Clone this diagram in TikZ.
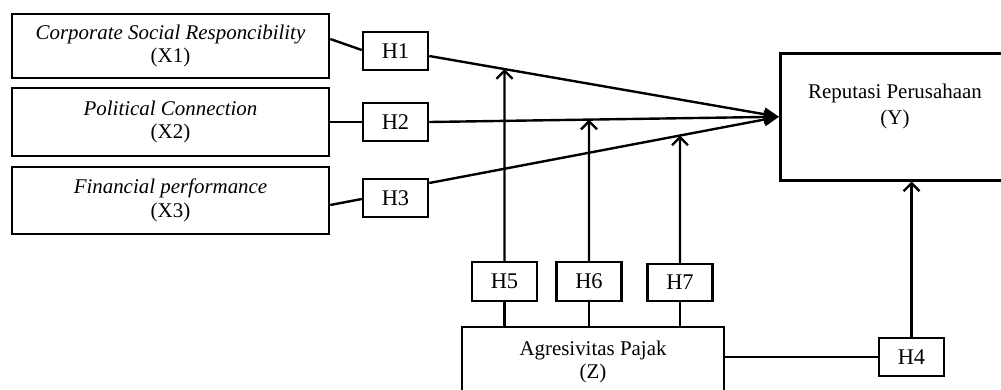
\documentclass[tikz,border=0pt]{standalone}
\usepackage{fontspec}
\setmainfont{Liberation Serif}
\usetikzlibrary{arrows.meta,intersections,calc}
\begin{document}
\begin{tikzpicture}[x=1bp,y=-1bp,
  txt/.style={font=\fontsize{21}{26}\selectfont,align=center,inner sep=0pt},
  box/.style={draw,line width=2.5bp,rectangle,inner sep=0pt,align=center,font=\fontsize{21}{24}\selectfont},
  xbox/.style={box,minimum width=317bp},
  hbox/.style={draw,line width=2.5bp,minimum width=65bp,minimum height=38bp,inner sep=0pt,font=\fontsize{22.5}{24}\selectfont},
  link/.style={line width=2.4bp},
  main/.style={link,-{Triangle[length=15bp,width=13bp]}},
  mod/.style={link,-{Straight Barb[length=8bp,width=16bp,line width=2.4bp]}}
]
\useasboundingbox (0,0) rectangle (1001,389);
\fill[white] (0,0) rectangle (1001,389);
\clip (0,0) rectangle (1001,389);

% independent variables
\node[xbox,minimum height=64bp] (X1) at (170.5,46) {\textit{Corporate Social Responcibility}\\(X1)};
\node[xbox,minimum height=68bp] (X2) at (170.5,122) {\textit{Political Connection}\\(X2)};
\node[xbox,minimum height=67bp] (X3) at (170.5,200.5) {\textit{Financial performance}\\(X3)};

% hypothesis boxes
\node[hbox] (H1) at (395.5,51) {H1};
\node[hbox] (H2) at (395.5,122) {H2};
\node[hbox] (H3) at (395.5,198) {H3};
\node[hbox,minimum height=39bp] (H5) at (504.5,281.5) {H5};
\node[hbox,minimum height=39bp] (H6) at (589,281.5) {H6};
\node[hbox,minimum height=37bp] (H7) at (680,282.5) {H7};
\node[hbox] (H4) at (911.5,357) {H4};

% dependent variable
\node[draw,line width=2.5bp,minimum width=240bp,minimum height=127bp,anchor=north west,inner sep=0pt] (Y) at (779,52) {};
\node[txt] (Yt) at (895,106.5) {Reputasi Perusahaan\\(Y)};

% moderating variable
\node[box,minimum width=262bp,minimum height=70bp] (Z) at (593,362) {Agresivitas Pajak\\(Z)};

% direct effects
\draw[link] ([yshift=7bp]X1.east) -- ([yshift=1bp]H1.west);
\draw[main,name path=l1] ([yshift=-5bp]H1.east) -- (Y.west);
\draw[link] (X2.east) -- (H2.west);
\draw[main,name path=l2] (H2.east) -- (Y.west);
\draw[link] ([yshift=-4.5bp]X3.east) -- ([yshift=-1bp]H3.west);
\draw[main,name path=l3] ([yshift=15bp]H3.east) -- (Y.west);

% moderation
\path[name path=v5] (H5.north) -- ++(0,-300);
\path[name path=v6] (H6.north) -- ++(0,-300);
\path[name path=v7] (H7.north) -- ++(0,-300);
\path[name intersections={of=l1 and v5,by=i5}];
\path[name intersections={of=l2 and v6,by=i6}];
\path[name intersections={of=l3 and v7,by=i7}];
\draw[mod] (H5.north) -- (i5);
\draw[mod] (H6.north) -- (i6);
\draw[mod] (H7.north) -- (i7);
\draw[link] (H5.south) -- (H5.south |- Z.north);
\draw[link] (H6.south) -- (H6.south |- Z.north);
\draw[link] (H7.south) -- (H7.south |- Z.north);

% Z -> Y
\draw[link] (H4.west -| Z.east) -- (H4.west);
\draw[mod] (H4.north) -- (H4.north |- Y.south);
\end{tikzpicture}
\end{document}
